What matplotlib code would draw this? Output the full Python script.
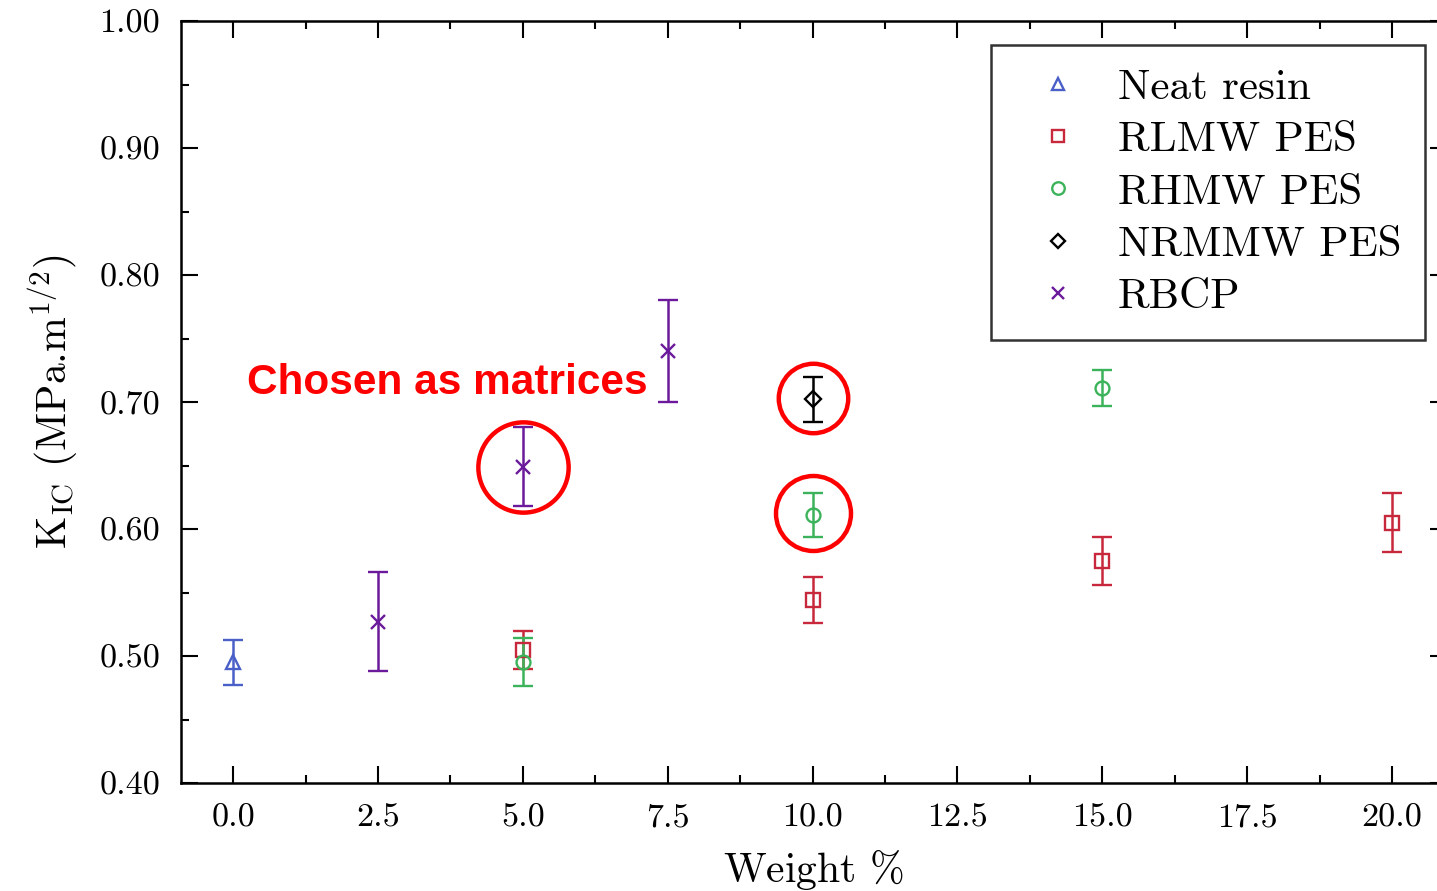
import matplotlib
matplotlib.use("Agg")
import matplotlib.pyplot as plt
from matplotlib.lines import Line2D
from matplotlib.ticker import MultipleLocator, FormatStrFormatter

plt.rcParams['font.family'] = 'serif'
plt.rcParams['font.serif'] = ['cmr10', 'DejaVu Serif']
plt.rcParams['mathtext.fontset'] = 'cm'
plt.rcParams['axes.formatter.use_mathtext'] = True

# data
neat_x = [0.0]
neat_y = [0.495]
neat_err = [0.018]

rlmw_x = [5.0, 10.0, 15.0, 20.0]
rlmw_y = [0.505, 0.544, 0.575, 0.605]
rlmw_err = [0.015, 0.018, 0.019, 0.023]

rhmw_x = [5.0, 10.0, 15.0]
rhmw_y = [0.495, 0.611, 0.711]
rhmw_err = [0.019, 0.017, 0.014]

nrmmw_x = [10.0]
nrmmw_y = [0.702]
nrmmw_err = [0.018]

rbcp_x = [2.5, 5.0, 7.5]
rbcp_y = [0.527, 0.649, 0.740]
rbcp_err = [0.039, 0.031, 0.040]

# highlighted points (red circles)
circ_x = [5.0, 10.0, 10.0]
circ_y = [0.649, 0.703, 0.613]
circ_size = [65, 50, 54]

series = [
    ('Neat resin', neat_x, neat_y, neat_err, '^', '#4a5fc8'),
    ('RLMW PES', rlmw_x, rlmw_y, rlmw_err, 's', '#c8283c'),
    ('RHMW PES', rhmw_x, rhmw_y, rhmw_err, 'o', '#3cb35a'),
    ('NRMMW PES', nrmmw_x, nrmmw_y, nrmmw_err, 'D', '#000000'),
    ('RBCP', rbcp_x, rbcp_y, rbcp_err, 'x', '#6a1a9a'),
]

fig = plt.figure(figsize=(14.37, 8.91), dpi=100)
ax = fig.add_axes([0.126, 0.1212, 0.881, 0.8552])

handles = []
for name, xs, ys, es, mk, col in series:
    ms = 10 if mk != 'D' else 8
    ax.errorbar(xs, ys, yerr=es, fmt=mk, color=col, mfc='none', mec=col,
                ms=ms, mew=1.7, elinewidth=1.8, capsize=7, capthick=1.8)
    handles.append(Line2D([], [], ls='none', marker=mk, color=col, mfc='none',
                          mec=col, ms=9 if mk != 'D' else 7, mew=1.7, label=name))

for cx, cy, cs in zip(circ_x, circ_y, circ_size):
    ax.plot(cx, cy, marker='o', ms=cs, mfc='none', mec='red', mew=3.2)

ax.text(0.24, 0.715, 'Chosen as matrices', color='red', fontsize=30.5,
        fontweight='bold', family='Liberation Sans', ha='left', va='center')

ax.set_xlim(-0.9, 20.95)
ax.set_ylim(0.40, 1.00)
ax.xaxis.set_major_locator(MultipleLocator(2.5))
ax.xaxis.set_minor_locator(MultipleLocator(1.25))
ax.yaxis.set_major_locator(MultipleLocator(0.1))
ax.yaxis.set_minor_locator(MultipleLocator(0.05))
ax.xaxis.set_major_formatter(FormatStrFormatter('%.1f'))
ax.yaxis.set_major_formatter(FormatStrFormatter('%.2f'))
ax.tick_params(which='both', direction='in', top=True, right=True, width=1.5)
ax.tick_params(which='major', length=12, labelsize=24.5, pad=15)
ax.tick_params(which='minor', length=6)
for sp in ax.spines.values():
    sp.set_linewidth(1.8)

ax.set_xlabel(r'Weight $\%$', fontsize=30, labelpad=11)
ax.set_ylabel(r'K$_{\mathrm{IC}}$ (MPa.m$^{1/2}$)', fontsize=30, labelpad=14)

leg = ax.legend(handles=handles, loc='upper right', bbox_to_anchor=(0.9826, 0.9685),
                fontsize=31, frameon=True, fancybox=False, edgecolor='black',
                handletextpad=0.4, borderpad=0.55, labelspacing=0.33,
                handlelength=2.0, borderaxespad=0)
leg.get_frame().set_linewidth(1.8)

fig.savefig('out.png', dpi=100)
